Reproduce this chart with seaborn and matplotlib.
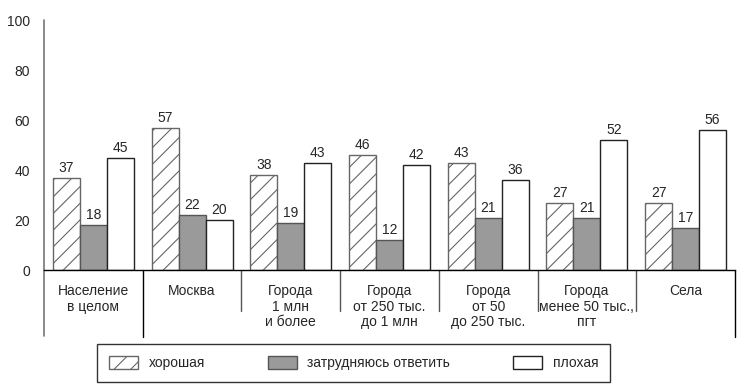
import seaborn as sns
import matplotlib.pyplot as plt
import pandas as pd
from matplotlib.patches import Patch

categories = ['Население\nв целом', 'Москва', 'Города\n1 млн\nи более',
              'Города\nот 250 тыс.\nдо 1 млн', 'Города\nот 50\nдо 250 тыс.',
              'Города\nменее 50 тыс.,\nпгт', 'Села']
answers = ['хорошая', 'затрудняюсь ответить', 'плохая']
good = [37, 57, 38, 46, 43, 27, 27]
unsure = [18, 22, 19, 12, 21, 21, 17]
bad = [45, 20, 43, 42, 36, 52, 56]

sns.set_style('white')
plt.rcParams['font.family'] = ['Liberation Sans', 'DejaVu Sans']
plt.rcParams['font.size'] = 10
plt.rcParams['hatch.linewidth'] = 0.8

rows = []
for i, cat in enumerate(categories):
    for ans, vals in zip(answers, [good, unsure, bad]):
        rows.append({'group': cat, 'answer': ans, 'value': vals[i]})
df = pd.DataFrame(rows)

fig = plt.figure(figsize=(7.45, 3.86), dpi=100)
ax = fig.add_axes([44 / 745, 1 - 270 / 386, 691 / 745, 250 / 386])

fills = ['white', '#9a9a9a', 'white']
edges = ['#666666', '#555555', '#222222']
sns.barplot(data=df, x='group', y='value', hue='answer', hue_order=answers,
            order=categories, palette=fills, width=0.82, gap=0,
            linewidth=1, edgecolor='#444444', legend=False, ax=ax)

for k, cont in enumerate(ax.containers):
    for bar in cont:
        bar.set_edgecolor(edges[k])
        if k == 0:
            bar.set_hatch('//')
    ax.bar_label(cont, padding=2, fontsize=10)

ax.set_xlim(-0.5, len(categories) - 0.5)
ax.set_ylim(0, 100)
ax.set_yticks(range(0, 101, 20))
ax.set_xlabel('')
ax.set_ylabel('')
ax.tick_params(axis='y', length=6, width=1, color='#777777', pad=4, labelsize=10)
ax.tick_params(axis='x', length=0, pad=10, labelsize=10)
for lab in ax.get_xticklabels():
    lab.set_linespacing(1.15)

for s in ['top', 'right', 'left']:
    ax.spines[s].set_visible(False)
ax.spines['bottom'].set_color('black')
ax.spines['bottom'].set_linewidth(1)

trans = ax.get_xaxis_transform()
ax.plot([-0.5, -0.5], [1, -0.262], color='#777777', lw=1.2,
        transform=trans, clip_on=False)
for xb in [0.5, 6.5]:
    ax.plot([xb, xb], [0, -0.268], color='black', lw=1,
            transform=trans, clip_on=False)
for xb in [1.5, 2.5, 3.5, 4.5, 5.5]:
    ax.plot([xb, xb], [0, -0.164], color='#555555', lw=1,
            transform=trans, clip_on=False)

handles = [Patch(facecolor=fills[k], edgecolor=edges[k],
                 hatch='//' if k == 0 else None, label=answers[k])
           for k in range(3)]
leg = fig.legend(handles=handles, loc='lower left', ncol=3, mode='expand',
                 bbox_to_anchor=(97 / 745, 4 / 386, 513 / 745, 37 / 386),
                 frameon=True, fancybox=False, edgecolor='black',
                 handlelength=2.1, handleheight=1.1, handletextpad=0.75,
                 borderpad=0.85, borderaxespad=0, fontsize=10)
leg.get_frame().set_linewidth(1)

fig.savefig('out.png', dpi=100)
